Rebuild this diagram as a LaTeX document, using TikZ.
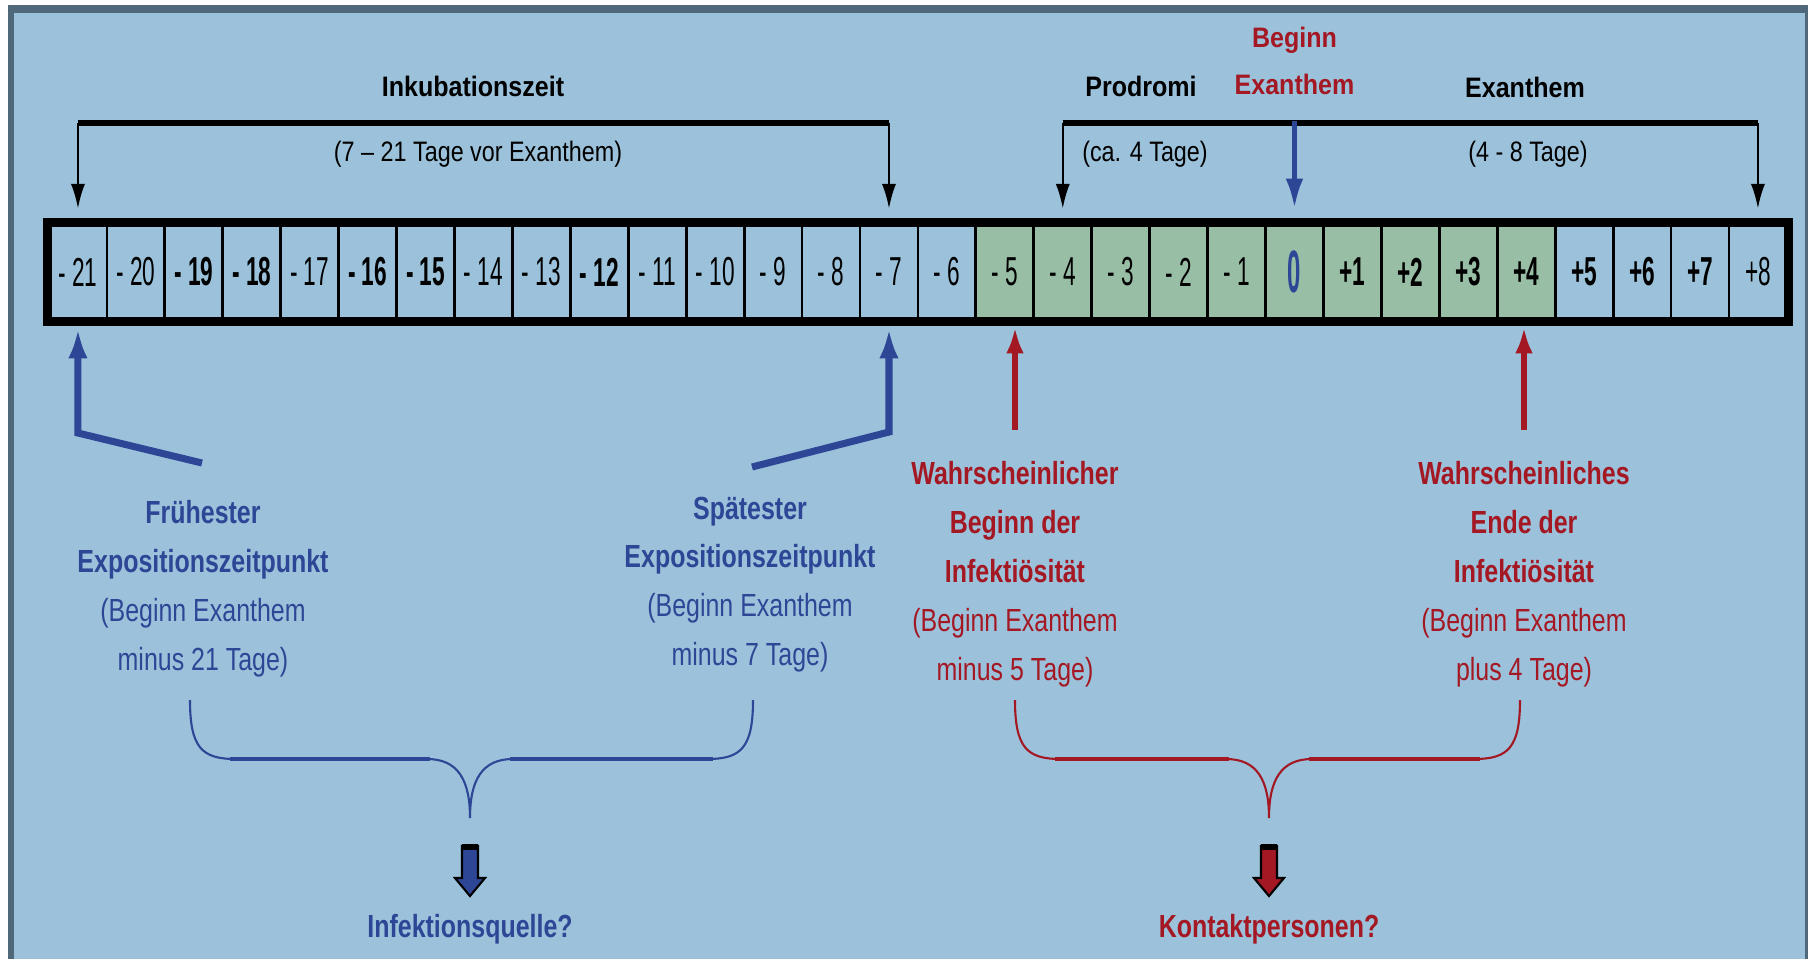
\documentclass[tikz,border=0pt]{standalone}
\usepackage{fontspec}
\usepackage{ifthen}
\setmainfont{Liberation Sans}
\newfontfamily\toplab{Liberation Sans}[FakeStretch=0.83]
\newfontfamily\toplabb{Liberation Sans}[FakeStretch=0.89]
\newfontfamily\lowlab{Liberation Sans}[FakeStretch=0.78]
\newfontfamily\daylab{Liberation Sans}[FakeStretch=0.56]
\newfontfamily\zerolab{Liberation Sans}[FakeStretch=0.4]
\usetikzlibrary{calc,arrows.meta}

\definecolor{bgblue}{HTML}{9BC2DA}
\definecolor{rimgray}{HTML}{50697A}
\definecolor{daygreen}{HTML}{98BEA6}
\definecolor{textblue}{HTML}{2E4696}
\definecolor{textred}{HTML}{A41824}

\begin{document}
\begin{tikzpicture}[x=0.01cm,y=-0.01cm,
  daybox/.style={draw,line width=0.8pt,minimum width=0.5793cm,minimum height=0.96cm,inner sep=0pt,font=\daylab\fontsize{11.5}{13}\selectfont},
  toptext/.style={font=\toplab\fontsize{8}{14.8}\selectfont,inner sep=0pt,align=center},
  topbold/.style={font=\toplabb\bfseries\fontsize{8}{13.1}\selectfont,inner sep=0pt,align=center},
  lowtext/.style={font=\lowlab\fontsize{9.1}{13.9}\selectfont,inner sep=0pt,align=center},
  spantip/.style={line width=0.6pt,-{Latex[length=7pt,width=4pt]}},
  zerotip/.style={line width=1.4pt,textblue,-{Latex[length=8.5pt,width=5pt]}},
  bluetip/.style={line width=2pt,textblue,-{Latex[length=8.5pt,width=5.5pt]}},
  redtip/.style={line width=1.7pt,textred,-{Latex[length=7.5pt,width=5pt]}}]

  \useasboundingbox (0,0) rectangle (1808,959);
  \fill[white] (0,0) rectangle (1808,959);
  \fill[rimgray] (8,5) rectangle (1808,959);
  \fill[bgblue] (14,13) rectangle (1805,959);

  % Tage -21 ... +8
  \foreach \d/\w [count=\i from 0] in {-21/n,-20/n,-19/b,-18/b,-17/n,-16/b,-15/b,-14/n,-13/n,-12/b,-11/n,-10/n,-9/n,-8/n,-7/n,-6/n,-5/n,-4/n,-3/n,-2/n,-1/n,0/b,1/b,2/b,3/b,4/b,5/b,6/b,7/b,8/n}
  {
    \pgfmathsetmacro\cx{49+(\i+0.5)*57.93}
    \pgfmathtruncatemacro\a{abs(\d)}
    \ifthenelse{\d > -6 \AND \d < 5}{\def\cellfill{daygreen}}{\def\cellfill{bgblue}}
    \ifthenelse{\equal{\w}{b}}{\def\cellwt{\bfseries}}{\def\cellwt{}}
    \ifthenelse{\d < 0}{\def\daytext{- \a}}{%
      \ifthenelse{\d = 0}{\def\daytext{{\zerolab\fontsize{17}{18}\selectfont\color{textblue}0}}}{\def\daytext{+\d}}}
    \node[daybox,fill=\cellfill] (d\d) at (\cx,272) {\cellwt\daytext};
  }
  \draw[line width=2.6pt] (d-21.north west) rectangle (d8.south east);

  % Klammern oben
  \coordinate (inkL) at (d-21.north |- 0,123);
  \coordinate (inkR) at (d-7.north |- 0,123);
  \coordinate (proL) at (d-4.north |- 0,123);
  \coordinate (exaR) at (d8.north |- 0,123);
  \draw[line width=1.8pt] (inkL) -- (inkR);
  \draw[line width=1.8pt] (proL) -- (exaR);
  \draw[spantip] (inkL) -- ($(d-21.north)+(0,-14)$);
  \draw[spantip] (inkR) -- ($(d-7.north)+(0,-14)$);
  \draw[spantip] (proL) -- ($(d-4.north)+(0,-14)$);
  \draw[spantip] (exaR) -- ($(d8.north)+(0,-14)$);
  \draw[zerotip] (d0.north |- 0,121) -- ($(d0.north)+(0,-14)$);

  \node[topbold,anchor=base] (ink) at (473,96) {Inkubationszeit};
  \node[toptext,anchor=base] (inkdays) at (478,161) {(7 – 21 Tage vor Exanthem)};
  \node[topbold,anchor=base] (pro) at (1141,96) {Prodromi};
  \node[toptext,anchor=base] (prodays) at (1145,161) {(ca. 4 Tage)};
  \node[topbold,anchor=base] (exa) at (1525,97) {Exanthem};
  \node[toptext,anchor=base] (exadays) at (1528,161) {(4 - 8 Tage)};
  \node[topbold,anchor=south,text=textred] (start) at (d0.north |- 0,95) {Beginn\\Exanthem};

  % Zeitpunkte unten
  \node[lowtext,anchor=north,text=textblue] (early) at (203,500)
    {\textbf{Frühester}\\\textbf{Expositionszeitpunkt}\\(Beginn Exanthem\\minus 21 Tage)};
  \node[lowtext,anchor=north,text=textblue] (late) at (750,496)
    {\textbf{Spätester}\\\textbf{Expositionszeitpunkt}\\(Beginn Exanthem\\minus 7 Tage)};
  \node[lowtext,anchor=north,text=textred] (infbeg) at (1015,461)
    {\textbf{Wahrscheinlicher}\\\textbf{Beginn der}\\\textbf{Infektiösität}\\(Beginn Exanthem\\minus 5 Tage)};
  \node[lowtext,anchor=north,text=textred] (infend) at (1524,461)
    {\textbf{Wahrscheinliches}\\\textbf{Ende der}\\\textbf{Infektiösität}\\(Beginn Exanthem\\plus 4 Tage)};

  \coordinate (earlyA) at (202,463);
  \coordinate (lateA) at (752,467);
  \draw[bluetip] (earlyA) -- (d-21.south |- 0,433) -- ($(d-21.south)+(0,7)$);
  \draw[bluetip] (lateA) -- (d-7.south |- 0,432) -- ($(d-7.south)+(0,7)$);
  \draw[redtip] (infbeg.north |- 0,430) -- (infbeg.north |- 0,327);
  \draw[redtip] (infend.north |- 0,430) -- (infend.north |- 0,327);

  % geschweifte Klammern und Blockpfeile
  \foreach \l/\r/\m/\c in {190/753/470/textblue,1015/1520/1269/textred}
  {
    \draw[\c,line width=0.6pt] (\l,700) .. controls (\l,748) and ({\l+12},759) .. ({\l+46},759)
      -- ({\m-43},759) .. controls ({\m-12},759) and (\m,780) .. (\m,818)
      .. controls (\m,780) and ({\m+12},759) .. ({\m+43},759)
      -- ({\r-46},759) .. controls ({\r-12},759) and (\r,748) .. (\r,700);
    \draw[\c,line width=1.3pt] ({\l+40},759) -- ({\m-40},759);
    \draw[\c,line width=1.3pt] ({\m+40},759) -- ({\r-40},759);
    \draw[fill=\c,line width=0.6pt] ({\m-8},846) -- ({\m+8},846) -- ({\m+8},878) -- ({\m+15},878)
      -- (\m,896) -- ({\m-15},878) -- ({\m-8},878) -- cycle;
    \draw[line width=1.6pt] ({\m-8},847) -- ({\m+8},847);
  }

  \node[lowtext,anchor=base,text=textblue] (source) at (470,937) {\bfseries Infektionsquelle?};
  \node[lowtext,anchor=base,text=textred] (contacts) at (1269,937) {\bfseries Kontaktpersonen?};
\end{tikzpicture}
\end{document}
